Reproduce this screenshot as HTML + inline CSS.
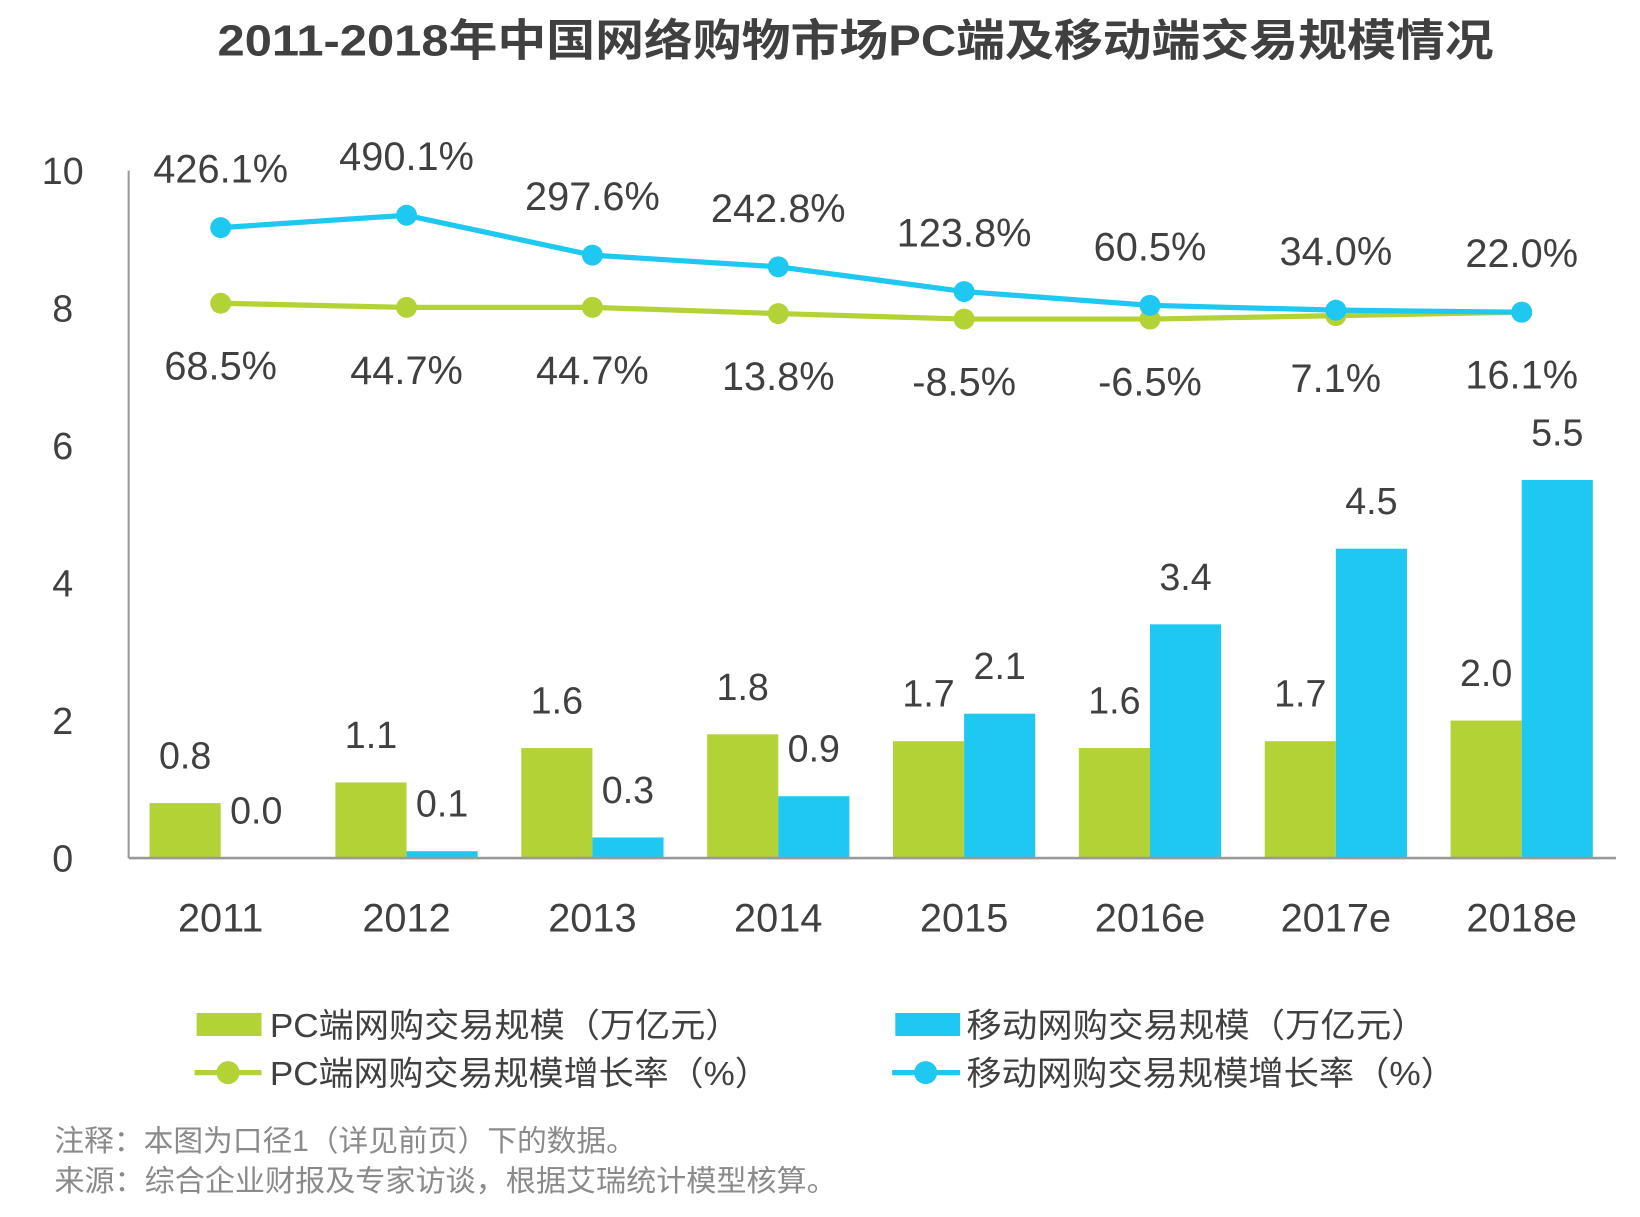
<!DOCTYPE html>
<html><head><meta charset="utf-8"><style>
html,body{margin:0;padding:0;background:#fff;}
svg{display:block;}
text{font-family:"Liberation Sans","Noto Sans CJK SC",sans-serif;}
</style></head><body>
<svg id="chart" width="1640" height="1217" viewBox="0 0 1568 1163" preserveAspectRatio="none" xmlns="http://www.w3.org/2000/svg">
<text x="818" y="53" text-anchor="middle" font-size="42" font-weight="bold" fill="#404040" textLength="1220" lengthAdjust="spacingAndGlyphs">2011-2018年中国网络购物市场PC端及移动端交易规模情况</text>
<g id="plot"></g>
<g>
 <rect x="188" y="968" width="62" height="22" fill="#b2d235"/>
 <text x="258" y="991" font-size="32" fill="#404040" textLength="450" lengthAdjust="spacingAndGlyphs">PC端网购交易规模（万亿元）</text>
 <rect x="856" y="968" width="62" height="22" fill="#1fc8f0"/>
 <text x="924" y="991" font-size="32" fill="#404040" textLength="440" lengthAdjust="spacingAndGlyphs">移动网购交易规模（万亿元）</text>
 <line x1="186" y1="1025" x2="250" y2="1025" stroke="#b2d235" stroke-width="5"/>
 <circle cx="218" cy="1025" r="11" fill="#b2d235"/>
 <text x="258" y="1037" font-size="32" fill="#404040" textLength="478" lengthAdjust="spacingAndGlyphs">PC端网购交易规模增长率（%）</text>
 <line x1="853" y1="1025" x2="918" y2="1025" stroke="#1fc8f0" stroke-width="5"/>
 <circle cx="885" cy="1025" r="11" fill="#1fc8f0"/>
 <text x="924" y="1037" font-size="32" fill="#404040" textLength="468" lengthAdjust="spacingAndGlyphs">移动网购交易规模增长率（%）</text>
</g>
<text x="52" y="1100" font-size="28" fill="#8a8a8a" textLength="556" lengthAdjust="spacingAndGlyphs">注释：本图为口径1（详见前页）下的数据。</text>
<text x="52" y="1138" font-size="28" fill="#8a8a8a" textLength="748" lengthAdjust="spacingAndGlyphs">来源：综合企业财报及专家访谈，根据艾瑞统计模型核算。</text>
</svg>
<script>
const categories = ["2011","2012","2013","2014","2015","2016e","2017e","2018e"];
const pcValues = [0.8,1.1,1.6,1.8,1.7,1.6,1.7,2.0];
const mobileValues = [0.0,0.1,0.3,0.9,2.1,3.4,4.5,5.5];
const mobileRateLevel = [9.17,9.35,8.77,8.60,8.24,8.04,7.97,7.94];
const pcRateLevel = [8.07,8.01,8.01,7.92,7.84,7.84,7.89,7.94];
const mobileRateLabels = ["426.1%","490.1%","297.6%","242.8%","123.8%","60.5%","34.0%","22.0%"];
const pcRateLabels = ["68.5%","44.7%","44.7%","13.8%","-8.5%","-6.5%","7.1%","16.1%"];
const yTicks = [0,2,4,6,8,10];

const NS = "http://www.w3.org/2000/svg";
const g = document.getElementById("plot");
const X0 = 123, X1 = 1545, Y0 = 820, Y10 = 163;
const y = v => Y0 - (Y0 - Y10) * v / 10;
const step = 177.7, first = 211;
const xc = i => first + i * step;
const BW = 68;
function mk(tag, attrs, txt){
  const e = document.createElementNS(NS, tag);
  for (const k in attrs) e.setAttribute(k, attrs[k]);
  if (txt !== undefined) e.textContent = txt;
  g.appendChild(e);
  return e;
}
let e;
e = mk("line",{x1:X0,y1:Y10,x2:X0,y2:Y0,stroke:"#999","stroke-width":2});


yTicks.forEach(t=>{
  const el = mk("text",{x:60,y:y(t)+13,"font-size":36,fill:"#404040","text-anchor":"middle"},String(t));
  
  
});
categories.forEach((c,i)=>{
  const cx = xc(i);
  const b1 = mk("rect",{x:cx-BW,y:y(pcValues[i]),width:BW,height:Y0-y(pcValues[i]),fill:"#b2d235"});
  
  
  const b2 = mk("rect",{x:cx,y:y(mobileValues[i]),width:BW,height:Math.max(0,Y0-y(mobileValues[i])),fill:"#1fc8f0"});
  
  
  const l1 = mk("text",{x:cx-34,y:y(pcValues[i])-33,"font-size":36,fill:"#404040","text-anchor":"middle"},pcValues[i].toFixed(1));
  
  
  const l2 = mk("text",{x:cx+34,y:y(mobileValues[i])-33,"font-size":36,fill:"#404040","text-anchor":"middle"},mobileValues[i].toFixed(1));
  
  
  const xl = mk("text",{x:cx,y:890,"font-size":38,fill:"#404040","text-anchor":"middle"},c);
  
  
});
e = mk("line",{x1:X0,y1:Y0,x2:X1,y2:Y0,stroke:"#999","stroke-width":2.5});


function series(vals, color, labels, dy, name){
  const pts = vals.map((v,i)=>xc(i)+","+y(v)).join(" ");
  const pl = mk("polyline",{points:pts,fill:"none",stroke:color,"stroke-width":5,"stroke-linejoin":"round"});
  
  
  vals.forEach((v,i)=>{
    const c = mk("circle",{cx:xc(i),cy:y(v),r:10,fill:color});
    
    
    const t = mk("text",{x:xc(i),y:y(v)+dy,"font-size":38,fill:"#404040","text-anchor":"middle"},labels[i]);
    
    
  });
}
series(pcRateLevel,"#b2d235",pcRateLabels,73,"pc-rate");
series(mobileRateLevel,"#1fc8f0",mobileRateLabels,-43,"mobile-rate");
</script>
</body></html>
